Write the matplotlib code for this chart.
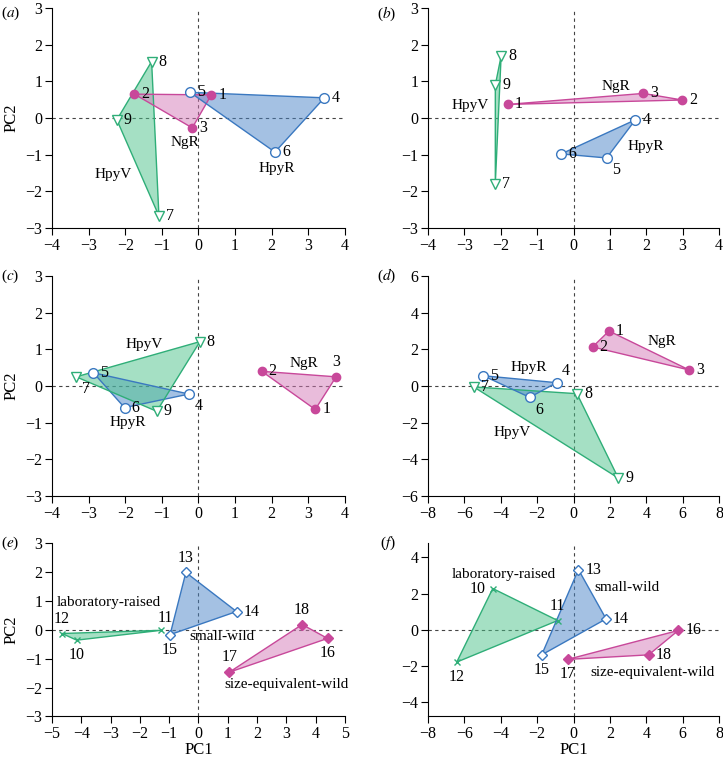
import matplotlib
matplotlib.use('Agg')
import matplotlib.pyplot as plt

plt.rcParams['font.family'] = ['Liberation Serif', 'DejaVu Serif']
plt.rcParams['mathtext.fontset'] = 'stix'

# ---- data: PC1/PC2 scores, point ids ----
# panels a-d: NgR (1-3), HpyR (4-6), HpyV (7-9)
ngr_ids = ['1', '2', '3']
hpyr_ids = ['4', '5', '6']
hpyv_ids = ['7', '8', '9']

a_ngr_x = [0.35, -1.75, -0.17]
a_ngr_y = [0.63, 0.65, -0.27]
a_hpyr_x = [3.44, -0.23, 2.09]
a_hpyr_y = [0.55, 0.70, -0.93]
a_hpyv_x = [-1.08, -1.28, -2.23]
a_hpyv_y = [-2.67, 1.54, -0.05]

b_ngr_x = [-1.81, 2.99, 1.92]
b_ngr_y = [0.37, 0.49, 0.67]
b_hpyr_x = [1.70, 0.91, -0.34]
b_hpyr_y = [-0.05, -1.09, -0.98]
b_hpyv_x = [-2.15, -1.99, -2.15]
b_hpyv_y = [-1.79, 1.69, 0.90]

c_ngr_x = [3.19, 1.73, 3.76]
c_ngr_y = [-0.64, 0.40, 0.25]
c_hpyr_x = [-0.26, -2.87, -2.02]
c_hpyr_y = [-0.22, 0.36, -0.59]
c_hpyv_x = [-3.34, 0.04, -1.14]
c_hpyv_y = [0.25, 1.21, -0.69]

d_ngr_x = [1.95, 1.05, 6.37]
d_ngr_y = [3.00, 2.13, 0.87]
d_hpyr_x = [-0.93, -4.96, -2.41]
d_hpyr_y = [0.18, 0.56, -0.62]
d_hpyv_x = [-5.49, 0.19, 2.46]
d_hpyv_y = [-0.05, -0.42, -5.02]

# panels e-f: laboratory-raised (10-12), small-wild (13-15), size-equivalent-wild (16-18)
lab_ids = ['10', '11', '12']
small_ids = ['13', '14', '15']
size_ids = ['16', '17', '18']

e_lab_x = [-4.16, -1.28, -4.66]
e_lab_y = [-0.36, -0.02, -0.13]
e_small_x = [-0.43, 1.30, -0.97]
e_small_y = [1.98, 0.63, -0.17]
e_size_x = [4.41, 1.05, 3.54]
e_size_y = [-0.30, -1.47, 0.18]

f_lab_x = [-4.44, -0.87, -6.42]
f_lab_y = [2.28, 0.51, -1.79]
f_small_x = [0.27, 1.79, -1.75]
f_small_y = [3.33, 0.60, -1.39]
f_size_x = [5.76, -0.32, 4.13]
f_size_y = [-0.04, -1.64, -1.39]

GREEN, GREEN_E = '#4cc38a', '#2fae78'
PINK, PINK_E = '#d57ab8', '#c8489a'
BLUE, BLUE_E = '#4a85c8', '#3a78c0'
FS = 11

# label offsets in points
OFF = {'r': (5, 0, 'left', 'center'), 'l': (-5, 0, 'right', 'center'),
       'a': (0, 5, 'center', 'bottom'), 'b': (0, -5, 'center', 'top'),
       'ar': (3, 3, 'center', 'bottom'),
       'rb': (4, -3, 'left', 'top'), 'ra': (4, 3, 'left', 'bottom')}


def group(ax, xs, ys, ids, pos, fc, ec, marker, mfc, ms):
    ax.fill(xs, ys, facecolor=fc, alpha=0.5, edgecolor='none', zorder=2)
    ax.fill(xs, ys, facecolor='none', edgecolor=ec, lw=1.0, zorder=3)
    ax.plot(xs, ys, ls='none', marker=marker, ms=ms, mfc=mfc, mec=ec,
            mew=1.0, zorder=4)
    for x, y, t, p in zip(xs, ys, ids, pos):
        dx, dy, ha, va = OFF[p]
        ax.annotate(t, (x, y), xytext=(dx, dy), textcoords='offset points',
                    ha=ha, va=va, fontsize=FS + 0.5, zorder=5)


def style(ax, xlim, ylim, xticks, yticks, letter, ly=1.0):
    ax.set_xlim(xlim)
    ax.set_ylim(ylim)
    ax.set_xticks(xticks)
    ax.set_yticks(yticks)
    ax.set_xticklabels([str(t).replace('-', '\u2212') for t in xticks])
    ax.set_yticklabels([str(t).replace('-', '\u2212') for t in yticks])
    for s in ['top', 'right']:
        ax.spines[s].set_visible(False)
    ax.spines['left'].set_linewidth(0.8)
    ax.spines['bottom'].set_linewidth(0.8)
    ax.tick_params(direction='out', labelsize=FS + 0.5, length=5, width=0.8, pad=2)
    ax.axhline(0, color='#444444', ls=(0, (3, 3)), lw=0.8, zorder=1)
    ax.axvline(0, color='#444444', ls=(0, (3, 3)), lw=0.8, zorder=1)
    ax.text(-0.11, ly, '(' + r'$\it{' + letter + '}$' + ')',
            transform=ax.transAxes, ha='right', va='center', fontsize=FS)


def name(ax, x, y, s):
    ax.text(x, y, s, ha='center', va='center', fontsize=FS, zorder=5)


fig = plt.figure(figsize=(7.23, 7.59), dpi=100)
axa = fig.add_axes([0.072, 0.6996, 0.405, 0.2899])
axb = fig.add_axes([0.592, 0.6996, 0.4025, 0.2899])
axc = fig.add_axes([0.072, 0.3465, 0.405, 0.2899])
axd = fig.add_axes([0.592, 0.3465, 0.4025, 0.2899])
axe = fig.add_axes([0.072, 0.056, 0.405, 0.2286])
axf = fig.add_axes([0.592, 0.056, 0.4025, 0.2286])

tri, circ, dia = 'v', 'o', 'D'

# (a)
group(axa, a_hpyv_x, a_hpyv_y, hpyv_ids, ['r', 'r', 'r'], GREEN, GREEN_E, tri, 'white', 7)
group(axa, a_ngr_x, a_ngr_y, ngr_ids, ['r', 'r', 'r'], PINK, PINK_E, circ, PINK_E, 6)
group(axa, a_hpyr_x, a_hpyr_y, hpyr_ids, ['r', 'r', 'r'], BLUE, BLUE_E, circ, 'white', 7)
name(axa, -0.37, -0.68, 'NgR')
name(axa, 2.15, -1.38, 'HpyR')
name(axa, -2.33, -1.55, 'HpyV')
style(axa, (-4, 4), (-3, 3), range(-4, 5), range(-3, 4), 'a', ly=0.975)
axa.set_ylabel('PC2', fontsize=FS + 1)

# (b)
group(axb, b_hpyv_x, b_hpyv_y, hpyv_ids, ['r', 'r', 'r'], GREEN, GREEN_E, tri, 'white', 7)
group(axb, b_ngr_x, b_ngr_y, ngr_ids, ['r', 'r', 'r'], PINK, PINK_E, circ, PINK_E, 6)
group(axb, b_hpyr_x, b_hpyr_y, hpyr_ids, ['r', 'rb', 'r'], BLUE, BLUE_E, circ, 'white', 7)
name(axb, 1.17, 0.87, 'NgR')
name(axb, 2.0, -0.79, 'HpyR')
name(axb, -2.85, 0.35, 'HpyV')
style(axb, (-4, 4), (-3, 3), range(-4, 5), range(-3, 4), 'b', ly=0.975)

# (c)
group(axc, c_ngr_x, c_ngr_y, ngr_ids, ['r', 'r', 'a'], PINK, PINK_E, circ, PINK_E, 6)
group(axc, c_hpyr_x, c_hpyr_y, hpyr_ids, ['rb', 'r', 'r'], BLUE, BLUE_E, circ, 'white', 7)
group(axc, c_hpyv_x, c_hpyv_y, hpyv_ids, ['rb', 'r', 'r'], GREEN, GREEN_E, tri, 'white', 7)
name(axc, 2.89, 0.60, 'NgR')
name(axc, -1.92, -1.0, 'HpyR')
name(axc, -1.49, 1.12, 'HpyV')
style(axc, (-4, 4), (-3, 3), range(-4, 5), range(-3, 4), 'c')
axc.set_ylabel('PC2', fontsize=FS + 1)

# (d)
group(axd, d_ngr_x, d_ngr_y, ngr_ids, ['r', 'r', 'r'], PINK, PINK_E, circ, PINK_E, 6)
group(axd, d_hpyv_x, d_hpyv_y, hpyv_ids, ['r', 'r', 'r'], GREEN, GREEN_E, tri, 'white', 7)
group(axd, d_hpyr_x, d_hpyr_y, hpyr_ids, ['ra', 'r', 'rb'], BLUE, BLUE_E, circ, 'white', 7)
name(axd, 4.85, 2.45, 'NgR')
name(axd, -2.48, 1.02, 'HpyR')
name(axd, -3.36, -2.51, 'HpyV')
style(axd, (-8, 8), (-6, 6), range(-8, 9, 2), range(-6, 7, 2), 'd')

# (e)
group(axe, e_lab_x, e_lab_y, lab_ids, ['b', 'ar', 'a'], GREEN, GREEN_E, 'x', GREEN_E, 5)
group(axe, e_small_x, e_small_y, small_ids, ['a', 'r', 'b'], BLUE, BLUE_E, dia, 'white', 5)
group(axe, e_size_x, e_size_y, size_ids, ['b', 'a', 'a'], PINK, PINK_E, dia, PINK_E, 5)
name(axe, -3.05, 0.93, 'laboratory-raised')
name(axe, 0.79, -0.23, 'small-wild')
name(axe, 3.01, -1.89, 'size-equivalent-wild')
style(axe, (-5, 5), (-3, 3), range(-5, 6), range(-3, 4), 'e')
axe.set_ylabel('PC2', fontsize=FS + 1)
axe.set_xlabel('PC1', fontsize=FS + 1, labelpad=0)

# (f)
group(axf, f_lab_x, f_lab_y, lab_ids, ['l', 'a', 'b'], GREEN, GREEN_E, 'x', GREEN_E, 5)
group(axf, f_small_x, f_small_y, small_ids, ['r', 'r', 'b'], BLUE, BLUE_E, dia, 'white', 5)
group(axf, f_size_x, f_size_y, size_ids, ['r', 'b', 'r'], PINK, PINK_E, dia, PINK_E, 5)
name(axf, -3.82, 3.07, 'laboratory-raised')
name(axf, 2.92, 2.34, 'small-wild')
name(axf, 4.33, -2.38, 'size-equivalent-wild')
style(axf, (-8, 8), (-4.8, 4.8), range(-8, 9, 2), range(-4, 5, 2), 'f')
axf.set_xlabel('PC1', fontsize=FS + 1, labelpad=0)

fig.savefig('out.png', dpi=100)
